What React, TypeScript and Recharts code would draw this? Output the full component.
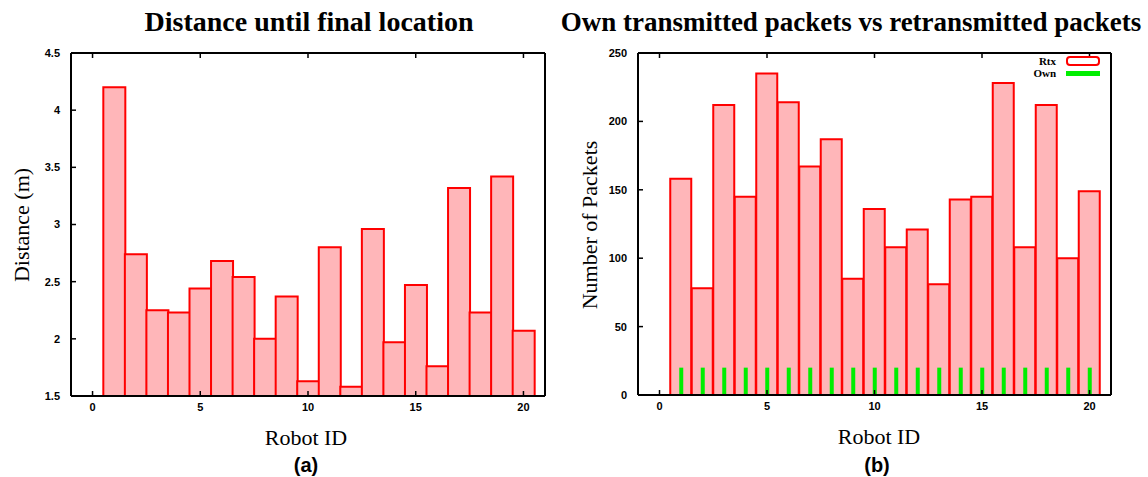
import { BarChart, Bar, XAxis, YAxis, Legend } from "recharts";

// robot ids and measured values
const robotIds = [1, 2, 3, 4, 5, 6, 7, 8, 9, 10, 11, 12, 13, 14, 15, 16, 17, 18, 19, 20];
const distances = [4.2, 2.74, 2.25, 2.23, 2.44, 2.68, 2.54, 2.0, 2.37, 1.63, 2.8, 1.58, 2.96, 1.97, 2.47, 1.76, 3.32, 2.23, 3.42, 2.07];
const rtxPackets = [158, 78, 212, 145, 235, 214, 167, 187, 85, 136, 108, 121, 81, 143, 145, 228, 108, 212, 100, 149];
const ownPackets = [20, 20, 20, 20, 20, 20, 20, 20, 20, 20, 20, 20, 20, 20, 20, 20, 20, 20, 20, 20];

const xTicks = [0, 5, 10, 15, 20];
const distanceTicks = [1.5, 2, 2.5, 3, 3.5, 4, 4.5];
const packetTicks = [0, 50, 100, 150, 200, 250];

const distanceData = robotIds.map((id, i) => ({ id, distance: distances[i] }));
const packetData = robotIds.map((id, i) => ({ id, rtx: rtxPackets[i], own: ownPackets[i] }));

const tickStyle = { fontFamily: "Liberation Sans", fontSize: 11, fontWeight: "bold", fill: "#000" };
const axisLine = { stroke: "#000", strokeWidth: 2 };
const tickLine = { stroke: "#000", strokeWidth: 1.5 };
const empty = () => "";

const serif = "'Liberation Serif', 'Times New Roman', serif";

function Text({ x, y, size, children, bold = false, sans = false, rotate = false }: any) {
  return (
    <div
      style={{
        position: "absolute",
        left: x,
        top: y,
        transform: `translate(-50%, -50%)${rotate ? " rotate(-90deg)" : ""}`,
        whiteSpace: "nowrap",
        fontFamily: sans ? "'Liberation Sans', Arial, sans-serif" : serif,
        fontSize: size,
        fontWeight: bold ? "bold" : "normal",
        lineHeight: 1,
        color: "#000",
      }}
    >
      {children}
    </div>
  );
}

const renderLegend = () => (
  <div style={{ fontFamily: serif, fontWeight: "bold", fontSize: 11, color: "#000" }}>
    <div style={{ display: "flex", alignItems: "center", height: 12 }}>
      <span style={{ width: 26, textAlign: "right", marginRight: 10 }}>Rtx</span>
      <span style={{ width: 30, height: 6, border: "2px solid #FF0000", borderRadius: 4, background: "#fff" }} />
    </div>
    <div style={{ display: "flex", alignItems: "center", height: 12 }}>
      <span style={{ width: 26, textAlign: "right", marginRight: 10 }}>Own</span>
      <span style={{ width: 34, height: 5, background: "#00EE00" }} />
    </div>
  </div>
);

export default function App() {
  return (
    <div style={{ position: "absolute", left: 0, top: 0, width: 1148, height: 477, background: "#fff" }}>
      <Text x={309} y={22} size={28} bold>Distance until final location</Text>
      <Text x={851} y={22} size={27} bold>Own transmitted packets vs retransmitted packets</Text>

      <div style={{ position: "absolute", left: 0, top: 0 }}>
        <BarChart
          width={560}
          height={477}
          data={distanceData}
          barCategoryGap={0}
          barGap={0}
          margin={{ top: 52, right: 14, bottom: 51, left: 21 }}
        >
          <XAxis type="number" dataKey="id" domain={[-1, 21]} ticks={xTicks} interval={0} height={30}
            tickSize={-5} tickMargin={12} axisLine={axisLine} tickLine={tickLine} tick={tickStyle} />
          <XAxis xAxisId="top" orientation="top" type="number" dataKey="id" domain={[-1, 21]} ticks={xTicks}
            interval={0} height={1} tickSize={-5} axisLine={axisLine} tickLine={tickLine} tickFormatter={empty} />
          <YAxis type="number" domain={[1.5, 4.5]} ticks={distanceTicks} interval={0} width={50}
            tickSize={-5} tickMargin={16} axisLine={axisLine} tickLine={tickLine} tick={tickStyle} />
          <YAxis yAxisId="right" orientation="right" type="number" domain={[1.5, 4.5]} ticks={distanceTicks}
            interval={0} width={1} tickSize={-5} axisLine={axisLine} tickLine={tickLine} tickFormatter={empty} />
          <Bar dataKey="distance" fill="#FFB6B9" stroke="#FF0000" strokeWidth={2} isAnimationActive={false} />
        </BarChart>
      </div>
      <Text x={22} y={225} size={22} rotate>Distance (m)</Text>
      <Text x={306} y={438} size={22}>Robot ID</Text>
      <Text x={306} y={465} size={20} bold sans>(a)</Text>

      <div style={{ position: "absolute", left: 560, top: 0 }}>
        <BarChart
          width={588}
          height={477}
          data={packetData}
          barCategoryGap={0}
          barGap={0}
          margin={{ top: 52, right: 36, bottom: 52, left: 28 }}
        >
          <XAxis type="number" dataKey="id" domain={[-1, 21]} ticks={xTicks} interval={0} height={30}
            tickSize={-5} tickMargin={12} axisLine={axisLine} tickLine={tickLine} tick={tickStyle} />
          <XAxis xAxisId="own" type="number" dataKey="id" domain={[-1, 21]} hide />
          <XAxis xAxisId="top" orientation="top" type="number" dataKey="id" domain={[-1, 21]} ticks={xTicks}
            interval={0} height={1} tickSize={-5} axisLine={axisLine} tickLine={tickLine} tickFormatter={empty} />
          <YAxis type="number" domain={[0, 250]} ticks={packetTicks} interval={0} width={50}
            tickSize={-5} tickMargin={16} axisLine={axisLine} tickLine={tickLine} tick={tickStyle} />
          <YAxis yAxisId="right" orientation="right" type="number" domain={[0, 250]} ticks={packetTicks}
            interval={0} width={1} tickSize={-5} axisLine={axisLine} tickLine={tickLine} tickFormatter={empty} />
          <Legend layout="vertical" align="center" verticalAlign="middle" content={renderLegend}
            wrapperStyle={{ left: 470, top: 55, width: 80 }} />
          <Bar name="Rtx" dataKey="rtx" fill="#FFB6B9" stroke="#FF0000" strokeWidth={2} isAnimationActive={false} />
          <Bar name="Own" xAxisId="own" dataKey="own" barSize={4} fill="#00EE00" isAnimationActive={false} />
        </BarChart>
      </div>
      <Text x={590} y={225} size={22} rotate>Number of Packets</Text>
      <Text x={879} y={437} size={22}>Robot ID</Text>
      <Text x={877} y={465} size={20} bold sans>(b)</Text>
    </div>
  );
}
